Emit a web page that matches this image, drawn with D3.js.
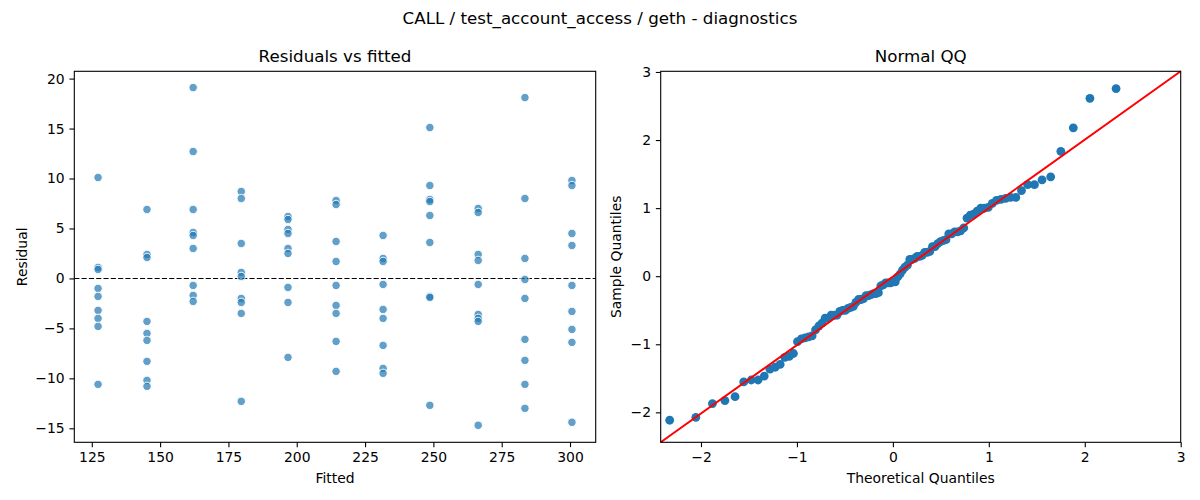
<!DOCTYPE html>
<html>
<head>
<meta charset="utf-8">
<script src="https://cdn.jsdelivr.net/npm/d3@7"></script>
<style>
  body { margin: 0; background: #fff; }
  svg text { font-family: "DejaVu Sans", sans-serif; fill: #000; }
</style>
</head>
<body>
<div id="chart"></div>
<script>
"use strict";

// fitted values (one column of points per fitted value)
var fitted = [127.3, 145.2, 162.1, 179.7, 196.8, 214.4, 231.6, 248.7, 266.4, 283.5, 300.7];

// residuals, one list per fitted column
var residuals = [
  [10.1, 1.1, 0.9, -1.0, -1.8, -3.2, -4.0, -4.8, -10.6],
  [6.9, 2.4, 2.1, -4.3, -5.5, -6.2, -8.3, -10.2, -10.8],
  [19.1, 12.7, 6.9, 4.6, 4.3, 3.0, -0.7, -1.7, -2.3],
  [8.7, 8.0, 3.5, 0.6, 0.2, -2.0, -2.4, -3.5, -12.3],
  [6.2, 5.9, 4.9, 4.5, 3.0, 2.5, -0.9, -2.4, -7.9],
  [7.8, 7.4, 3.7, 1.7, -0.7, -2.7, -3.5, -6.3, -9.3],
  [4.3, 2.0, 1.7, -0.6, -3.1, -4.0, -6.7, -9.0, -9.5],
  [15.1, 9.3, 7.9, 7.7, 6.3, 3.6, -1.8, -1.9, -12.7],
  [7.0, 6.6, 2.4, 1.8, -0.6, -3.6, -4.0, -4.3, -14.7],
  [18.1, 8.0, 2.0, -0.1, -2.0, -6.1, -8.2, -10.6, -13.0],
  [9.8, 9.3, 4.5, 3.3, -0.7, -3.3, -5.1, -6.4, -14.4]
];

var residTicks = [-15, -10, -5, 0, 5, 10, 15, 20];
var fittedTicks = [125, 150, 175, 200, 225, 250, 275, 300];
var qqTicks = [-2, -1, 0, 1, 2, 3];

var titre = "CALL / test_account_access / geth - diagnostics";

// inverse de la loi normale (Acklam) pour les quantiles theoriques
function normInv(p) {
  var a = [-3.969683028665376e+01, 2.209460984245205e+02, -2.759285104469687e+02, 1.383577518672690e+02, -3.066479806614716e+01, 2.506628277459239e+00];
  var b = [-5.447609879822406e+01, 1.615858368580409e+02, -1.556989798598866e+02, 6.680131188771972e+01, -1.328068155288572e+01];
  var c = [-7.784894002430293e-03, -3.223964580411365e-01, -2.400758277161838e+00, -2.549732539343734e+00, 4.374664141464968e+00, 2.938163982698783e+00];
  var d = [7.784695709041462e-03, 3.224671290700398e-01, 2.445134137142996e+00, 3.754408661907416e+00];
  var q, r;
  if (p < 0.02425) {
    q = Math.sqrt(-2 * Math.log(p));
    return (((((c[0]*q+c[1])*q+c[2])*q+c[3])*q+c[4])*q+c[5]) / ((((d[0]*q+d[1])*q+d[2])*q+d[3])*q+1);
  } else if (p > 1 - 0.02425) {
    q = Math.sqrt(-2 * Math.log(1 - p));
    return -(((((c[0]*q+c[1])*q+c[2])*q+c[3])*q+c[4])*q+c[5]) / ((((d[0]*q+d[1])*q+d[2])*q+d[3])*q+1);
  }
  q = p - 0.5; r = q * q;
  return (((((a[0]*r+a[1])*r+a[2])*r+a[3])*r+a[4])*r+a[5])*q / (((((b[0]*r+b[1])*r+b[2])*r+b[3])*r+b[4])*r+1);
}

var larg = 1200, haut = 500;
var tick = 4.86;

var svg = d3.select("#chart").append("svg")
  .attr("width", larg).attr("height", haut)
  .attr("viewBox", "0 0 " + larg + " " + haut);

svg.append("text").text(titre)
  .attr("x", 600).attr("y", 24)
  .attr("text-anchor", "middle").attr("font-size", "16.7px");

// ---------- Residuals vs fitted ----------
var points = [];
fitted.forEach(function (f, i) {
  residuals[i].forEach(function (r) { points.push({ f: f, r: r }); });
});

var L = { x0: 74.3, x1: 595.7, y0: 71.3, y1: 442.3 };
var xF = d3.scaleLinear().domain([118.6, 309.4]).range([L.x0, L.x1]);
var yR = d3.scaleLinear().domain([-16.4, 20.73]).range([L.y1, L.y0]);

var g1 = svg.append("g");

g1.append("line")
  .attr("x1", L.x0).attr("x2", L.x1)
  .attr("y1", yR(0)).attr("y2", yR(0))
  .attr("stroke", "#000").attr("stroke-width", 1.1)
  .attr("stroke-dasharray", "5.1,2.2");

g1.selectAll("circle").data(points).enter().append("circle")
  .attr("cx", function (d) { return xF(d.f); })
  .attr("cy", function (d) { return yR(d.r); })
  .attr("r", 4.2)
  .attr("fill", "#1f77b4").attr("fill-opacity", 0.7)
  .attr("stroke", "#fff").attr("stroke-width", 0.9);

drawFrame(g1, L, xF, yR, fittedTicks, residTicks);

g1.append("text").text("Residuals vs fitted")
  .attr("x", (L.x0 + L.x1) / 2).attr("y", 62)
  .attr("text-anchor", "middle").attr("font-size", "16.7px");
g1.append("text").text("Fitted")
  .attr("x", (L.x0 + L.x1) / 2).attr("y", 483)
  .attr("text-anchor", "middle").attr("font-size", "13.9px");
g1.append("text").text("Residual")
  .attr("transform", "translate(27," + (L.y0 + L.y1) / 2 + ") rotate(-90)")
  .attr("text-anchor", "middle").attr("font-size", "13.9px");

// ---------- Normal QQ ----------
var all = d3.sort(d3.merge(residuals));
var n = all.length;
var moy = d3.mean(all), sd = d3.deviation(all);
var qq = all.map(function (v, i) {
  return { t: normInv((i + 1) / (n + 1)), s: (v - moy) / sd };
});

var R = { x0: 660.7, x1: 1180.7, y0: 71.3, y1: 442.3 };
var xT = d3.scaleLinear().domain([-2.42, 3.0]).range([R.x0, R.x1]);
var yS = d3.scaleLinear().domain([-2.44, 3.01]).range([R.y1, R.y0]);

var g2 = svg.append("g");

g2.selectAll("circle").data(qq).enter().append("circle")
  .attr("cx", function (d) { return xT(d.t); })
  .attr("cy", function (d) { return yS(d.s); })
  .attr("r", 4.4)
  .attr("fill", "#1f77b4");

g2.append("line")
  .attr("x1", R.x0).attr("y1", R.y1)
  .attr("x2", R.x1).attr("y2", R.y0)
  .attr("stroke", "red").attr("stroke-width", 2);

drawFrame(g2, R, xT, yS, qqTicks, qqTicks);

g2.append("text").text("Normal QQ")
  .attr("x", (R.x0 + R.x1) / 2).attr("y", 62)
  .attr("text-anchor", "middle").attr("font-size", "16.7px");
g2.append("text").text("Theoretical Quantiles")
  .attr("x", (R.x0 + R.x1) / 2).attr("y", 483)
  .attr("text-anchor", "middle").attr("font-size", "13.9px");
g2.append("text").text("Sample Quantiles")
  .attr("transform", "translate(621," + (R.y0 + R.y1) / 2 + ") rotate(-90)")
  .attr("text-anchor", "middle").attr("font-size", "13.9px");

// cadre + axes facon matplotlib
function drawFrame(g, box, xs, ys, xt, yt) {
  var ax = g.append("g").attr("transform", "translate(0," + box.y1 + ")")
    .call(d3.axisBottom(xs).tickValues(xt).tickSize(tick).tickPadding(4.86).tickFormat(d3.format("d")));
  var ay = g.append("g").attr("transform", "translate(" + box.x0 + ",0)")
    .call(d3.axisLeft(ys).tickValues(yt).tickSize(tick).tickPadding(4.86).tickFormat(d3.format("d")));
  [ax, ay].forEach(function (a) {
    a.select(".domain").remove();
    a.selectAll(".tick line").attr("stroke", "#000").attr("stroke-width", 1.1);
    a.selectAll(".tick text").attr("font-size", "13.9px").attr("fill", "#000")
      .style("font-family", "DejaVu Sans");
  });
  g.append("rect")
    .attr("x", box.x0).attr("y", box.y0)
    .attr("width", box.x1 - box.x0).attr("height", box.y1 - box.y0)
    .attr("fill", "none").attr("stroke", "#000").attr("stroke-width", 1.1);
}
</script>
</body>
</html>
